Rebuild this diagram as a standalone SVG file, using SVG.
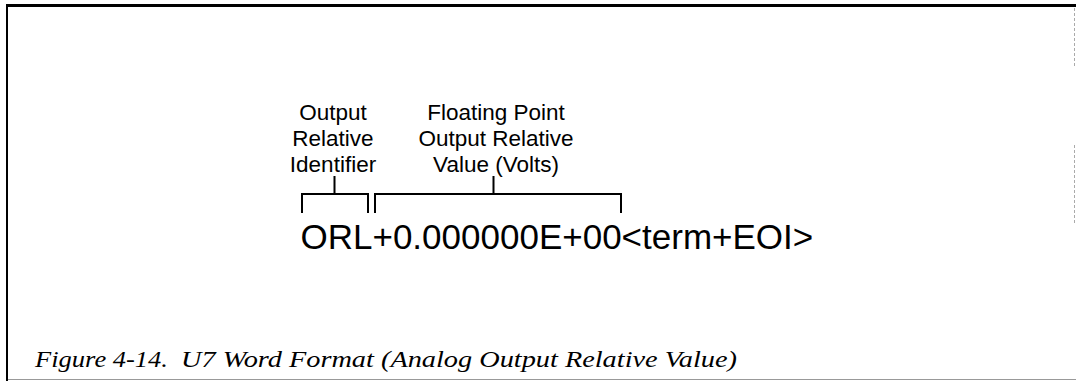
<svg xmlns="http://www.w3.org/2000/svg" width="1076" height="381" viewBox="0 0 1076 381">
<style>
.lbl{font-family:"Liberation Sans",Arial,sans-serif;font-size:22.5px;fill:#000;text-anchor:middle}
.main{font-family:"Liberation Sans",Arial,sans-serif;font-size:35px;fill:#000}
.cap{font-family:"Liberation Serif","Times New Roman",serif;font-style:italic;font-size:24px;fill:#000}
.br{fill:none;stroke:#000;stroke-width:2}
</style>
<rect width="1076" height="381" fill="#fff"/>
<g id="frame">
<line x1="6" y1="5.5" x2="1076" y2="5.5" stroke="#000" stroke-width="3"/>
<line x1="7" y1="4" x2="7" y2="381" stroke="#000" stroke-width="2"/>
<line x1="8" y1="379.5" x2="1076" y2="379.5" stroke="#999" stroke-width="1"/>
<line x1="1074.5" y1="8" x2="1074.5" y2="68" stroke="#aaa" stroke-width="1" stroke-dasharray="3,2"/>
<line x1="1074.5" y1="145" x2="1074.5" y2="225" stroke="#aaa" stroke-width="1" stroke-dasharray="3,2"/>
</g>
<g id="label-identifier">
<text class="lbl" x="333" y="120">Output</text>
<text class="lbl" x="333" y="146">Relative</text>
<text class="lbl" x="333" y="172">Identifier</text>
</g>
<g id="label-value">
<text class="lbl" x="496" y="120">Floating Point</text>
<text class="lbl" x="496" y="146">Output Relative</text>
<text class="lbl" x="496" y="172">Value (Volts)</text>
</g>
<g id="connectors">
<path class="br" d="M302,213 V194 H368 V213 M334.5,176 V194"/>
<path class="br" d="M375,213 V194 H621 V213 M493.5,176 V194"/>
</g>
<g id="word">
<text class="main" x="300.5" y="249">ORL+0.000000E+00&lt;term+EOI&gt;</text>
</g>
<g id="caption">
<text class="cap" x="35" y="367" textLength="133" lengthAdjust="spacingAndGlyphs">Figure 4-14.</text>
<text class="cap" x="181" y="367" textLength="556" lengthAdjust="spacingAndGlyphs">U7 Word Format (Analog Output Relative Value)</text>
</g>
</svg>
